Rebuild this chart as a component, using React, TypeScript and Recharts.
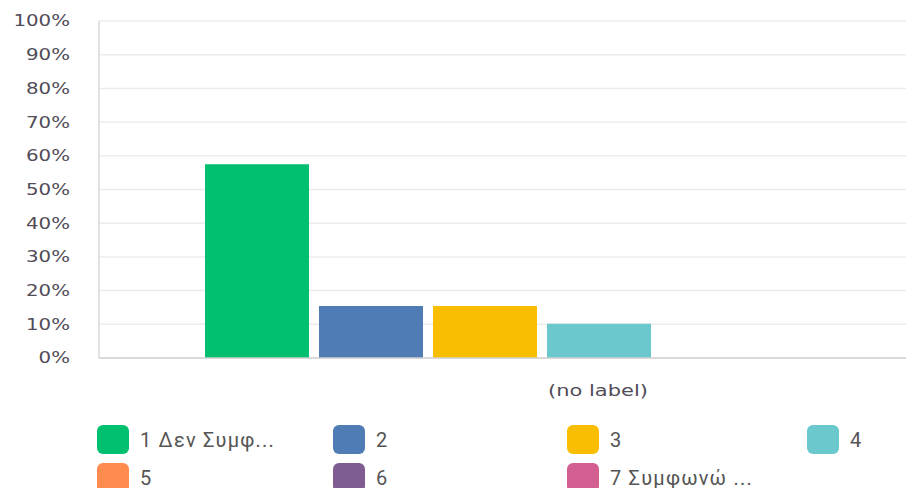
import React from 'react';
import { BarChart, Bar, XAxis, YAxis, CartesianGrid } from 'recharts';

// one category, seven answer options
const categories = ['(no label)'];
const seriesKeys = ['s1', 's2', 's3', 's4', 's5', 's6', 's7'];
const seriesNames = ['1 Δεν Συμφ...', '2', '3', '4', '5', '6', '7 Συμφωνώ ...'];
const seriesValues = [57.5, 15.4, 15.4, 10.2, 0, 0, 0];
const seriesColors = ['#00bf6f', '#507cb6', '#f9be00', '#6bc8cd', '#ff8b4f', '#7f5d90', '#d25f90'];
const yTicks = [0, 10, 20, 30, 40, 50, 60, 70, 80, 90, 100];

const chartData = categories.map((c) => {
  const row: any = { name: c };
  seriesKeys.forEach((k, i) => {
    row[k] = seriesValues[i];
  });
  return row;
});

const tickFont = '"DejaVu Sans", sans-serif';

const YTick = ({ x, y, payload }: any) => (
  <g transform={`translate(${x},${y}) scale(1.32,1)`}>
    <text x={0} y={0} dy="0.36em" textAnchor="end" fill="#514c58" fontSize={15} fontFamily={tickFont}>
      {payload.value}%
    </text>
  </g>
);

const XTick = ({ x, y, payload }: any) => (
  <g transform={`translate(${x},${y}) scale(1.4,1)`}>
    <text x={0} y={0} dy="0.71em" textAnchor="middle" fill="#514c58" fontSize={15} fontFamily={tickFont}>
      {payload.value}
    </text>
  </g>
);

export default function App() {
  return (
    <div
      style={{
        width: 914,
        height: 480,
        overflow: 'hidden',
        position: 'relative',
        background: '#fff',
      }}
    >
      <style>{'html,body{overflow:hidden}'}</style>
      <BarChart
        width={1100}
        height={400}
        data={chartData}
        margin={{ top: 13, right: 11, left: 0, bottom: 0 }}
        barCategoryGap={106}
        barGap={10}
      >
        <CartesianGrid vertical={false} stroke="#ececec" strokeWidth={1.5} />
        <XAxis
          dataKey="name"
          height={50}
          axisLine={{ stroke: '#d0d0d0', strokeWidth: 1.5 }}
          tickLine={false}
          tickSize={0}
          tickMargin={27}
          tick={<XTick />}
        />
        <YAxis
          width={91}
          domain={[0, 100]}
          ticks={yTicks}
          interval={0}
          axisLine={{ stroke: '#d8d8d8', strokeWidth: 1.5 }}
          tickLine={false}
          tickSize={0}
          tickMargin={29}
          tick={<YTick />}
        />
        {seriesKeys.map((k, i) => (
          <Bar key={k} dataKey={k} name={seriesNames[i]} fill={seriesColors[i]} isAnimationActive={false} />
        ))}
      </BarChart>
      <div
        style={{
          position: 'absolute',
          left: 89,
          top: 417,
          display: 'grid',
          gridTemplateColumns: '236px 234px 240px 120px',
          rowGap: 9,
          fontFamily: '"Roboto", sans-serif',
          fontSize: 20,
          letterSpacing: 1.2,
          color: '#555',
        }}
      >
        {seriesNames.map((n, i) => (
          <div key={n} style={{ display: 'flex', alignItems: 'center', height: 29 }}>
            <span
              style={{
                display: 'inline-block',
                width: 32,
                height: 29,
                borderRadius: 6,
                background: seriesColors[i],
                marginRight: 11,
              }}
            />
            <span>{n}</span>
          </div>
        ))}
      </div>
    </div>
  );
}
